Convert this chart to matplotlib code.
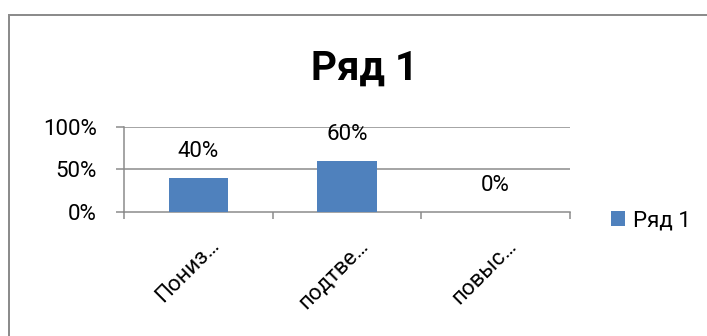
import matplotlib
matplotlib.use("Agg")
import matplotlib.pyplot as plt
import matplotlib.transforms as mtransforms
from matplotlib.patches import Rectangle

plt.rcParams['font.family'] = ['Roboto', 'DejaVu Sans']

# Data
title = "Ряд 1"
series_name = "Ряд 1"
categories = ["Пониз…", "подтве…", "повыс…"]
values = [0.40, 0.60, 0.0]
y_ticks = [0.0, 0.5, 1.0]
y_tick_labels = ["0%", "50%", "100%"]

BAR_COLOR = "#4F81BD"
GRID_COLOR = "#898989"
W, H, DPI = 707, 336, 100

fig = plt.figure(figsize=(W / DPI, H / DPI), dpi=DPI)
px = 72.0 / DPI  # points per pixel

# Outer chart frame (only top and left edges fall inside the image)
fig.patches.append(Rectangle((9 / W, -0.05), 1.1, 1 - 15 / H + 0.05,
                             transform=fig.transFigure, fill=False,
                             edgecolor="#8c8c8c", linewidth=2 * px))

ax = fig.add_axes([124 / W, 1 - 211.5 / H, 446 / W, 84.5 / H])
x = list(range(len(categories)))
bars = ax.bar(x, values, width=0.4, color=BAR_COLOR, label=series_name, zorder=3)

ax.set_xlim(-0.5, len(categories) - 0.5)
ax.set_ylim(0, 1)

# Horizontal gridlines
for yv in y_ticks[1:]:
    ax.axhline(yv, color=GRID_COLOR, linewidth=1.5 * px, zorder=1)

for side in ("top", "right"):
    ax.spines[side].set_visible(False)
for side in ("left", "bottom"):
    ax.spines[side].set_color(GRID_COLOR)
    ax.spines[side].set_linewidth(1.5 * px)

ax.set_yticks(y_ticks)
ax.set_yticklabels(y_tick_labels)
ax.tick_params(axis="y", direction="out", length=8 * px, width=1.5 * px,
               color=GRID_COLOR, pad=19 * px, labelsize=16, labelcolor="black")

bounds = [i - 0.5 for i in range(len(categories) + 1)]
ax.set_xticks(bounds)
ax.set_xticklabels([])
ax.tick_params(axis="x", direction="out", length=7 * px, width=1.5 * px,
               color=GRID_COLOR)

# Rotated category labels anchored at their right end
base = mtransforms.blended_transform_factory(ax.transData, ax.transAxes)
for i, lab in enumerate(categories):
    tr = base + mtransforms.ScaledTranslation(18 / DPI, -31 / DPI, fig.dpi_scale_trans)
    ax.text(i, 0, lab, transform=tr, rotation=45, rotation_mode="anchor",
            ha="right", va="center", fontsize=16, clip_on=False)

# Value labels above bars
for xi, v in zip(x, values):
    ax.annotate(f"{v * 100:.0f}%", (xi, v), xytext=(0, 26 * px),
                textcoords="offset points", ha="center", va="center",
                fontsize=16, annotation_clip=False)

fig.text(365 / W, 1 - 80 / H, title, ha="center", va="baseline",
         fontsize=29, fontweight="bold")

fig.legend(handles=[bars], labels=[series_name], loc="center left",
           bbox_to_anchor=(611 / W, 1 - 221 / H), frameon=False,
           fontsize=16, handlelength=0.64, handleheight=0.64,
           handletextpad=0.36, borderpad=0, borderaxespad=0)

fig.savefig("out.png", dpi=DPI, facecolor="white")
